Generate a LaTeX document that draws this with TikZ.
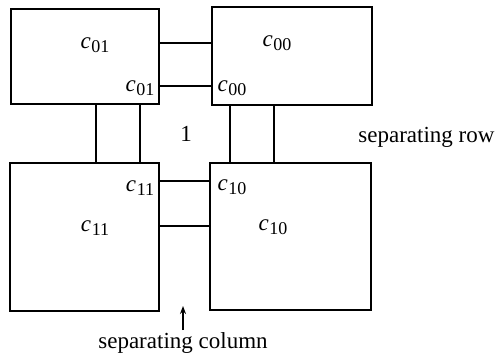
\documentclass[tikz,border=0pt]{standalone}
\usepackage{fontspec}
\setmainfont{Liberation Serif}
\usetikzlibrary{arrows.meta}
\newcommand\cel[1]{\textit{c}\kern0.03em\raisebox{-0.4ex}{\fontsize{9}{10}\selectfont #1}}
\tikzset{
  blk/.style={draw, line width=1pt, rectangle, inner sep=0pt, anchor=north west},
  conn/.style={line width=0.8pt},
  lbl/.style={font=\fontsize{11.5}{13}\selectfont, inner sep=0pt}
}
\begin{document}
\begin{tikzpicture}[x=0.5pt,y=-0.5pt]
\useasboundingbox (0,0) rectangle (496,353);
\node[blk, minimum width=74pt, minimum height=47.5pt] (tl) at (10,8) {};
\node[blk, minimum width=80pt, minimum height=49pt] (tr) at (211,6) {};
\node[blk, minimum width=74.5pt, minimum height=74pt] (bl) at (9,162) {};
\node[blk, minimum width=80.5pt, minimum height=73.5pt] (br) at (209,162) {};
% connectors
\draw[conn] (tl.east |- 0,43) -- (tr.west |- 0,43);
\draw[conn] (tl.east |- 0,86) -- (tr.west |- 0,86);
\draw[conn] (bl.east |- 0,181) -- (br.west |- 0,181);
\draw[conn] (bl.east |- 0,226) -- (br.west |- 0,226);
\draw[conn] (tl.south -| 96,0) -- (bl.north -| 96,0);
\draw[conn] (tl.south -| 140,0) -- (bl.north -| 140,0);
\draw[conn] (tr.south -| 230,0) -- (br.north -| 230,0);
\draw[conn] (tr.south -| 274,0) -- (br.north -| 274,0);
% labels
\node[lbl] (l1) at (95,45) {\cel{01}};
\node[lbl] (l2) at (140,88) {\cel{01}};
\node[lbl] (l3) at (277,43) {\cel{00}};
\node[lbl] (l4) at (232,88) {\cel{00}};
\node[lbl] (l5) at (140,188) {\cel{11}};
\node[lbl] (l6) at (95,228) {\cel{11}};
\node[lbl] (l7) at (232,187) {\cel{10}};
\node[lbl] (l8) at (273,227) {\cel{10}};
\node[lbl] (one) at (186,134) {1};
\node[lbl, anchor=west] (row) at (358,137) {separating row};
\node[lbl] (col) at (183,343) {separating column};
\coordinate (ah) at (183,306);
\draw[line width=0.8pt, -{Stealth[length=4pt,width=3pt]}] (col.north -| ah) ++(0,-2) -- (ah);
\end{tikzpicture}
\end{document}
